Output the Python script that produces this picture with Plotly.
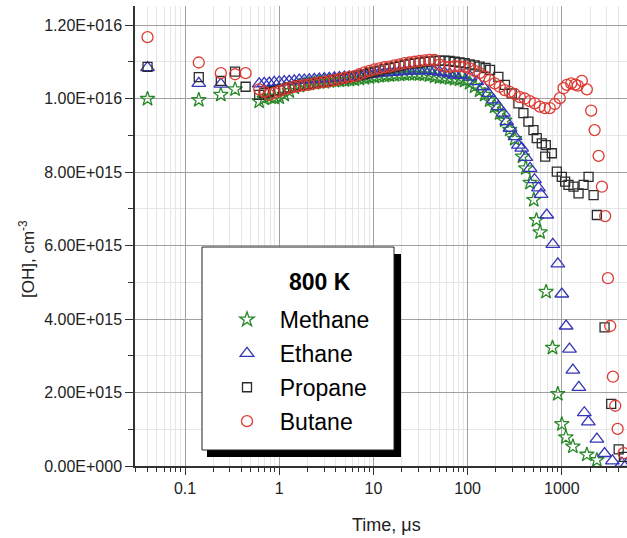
import plotly.graph_objects as go

UNIT = 1e15  # OH values below are given in units of 1e15 cm^-3

# ---------------- data (time in microseconds, [OH] in 1e15 cm^-3) ----------------
methane_t = [0.04, 0.14, 0.24, 0.34,
             0.613, 0.693, 0.783, 0.885, 1.0, 1.13, 1.277, 1.444, 1.632, 1.845,
             2.085, 2.357, 2.664, 3.011, 3.403, 3.847, 4.348, 4.914, 5.555, 6.279,
             7.097, 8.022, 9.067, 10.25, 11.58, 13.09, 14.8, 16.73, 18.91, 21.37,
             24.15, 27.3, 30.86, 34.88, 39.42, 44.56, 50.37, 56.93, 64.35, 72.73,
             82.21, 92.92, 105.0, 118.7, 134.2, 151.7, 171.4, 193.8, 219.0, 247.6,
             279.8, 316.3,
             382, 414, 460, 504, 538, 588, 681, 796, 907, 1000, 1104, 1310, 1845, 2355]
methane_oh = [9.99, 9.96, 10.10, 10.25,
              9.92, 10.00, 10.05, 10.02, 10.03, 10.10, 10.20, 10.30, 10.35, 10.38,
              10.40, 10.42, 10.44, 10.45, 10.47, 10.48, 10.49, 10.50, 10.51, 10.52,
              10.54, 10.56, 10.58, 10.59, 10.61, 10.62, 10.63, 10.64, 10.65, 10.66,
              10.67, 10.67, 10.66, 10.65, 10.63, 10.60, 10.58, 10.57, 10.55, 10.53,
              10.52, 10.48, 10.42, 10.33, 10.22, 10.10, 9.95, 9.78, 9.60, 9.40,
              9.15, 8.90,
              8.42, 8.10, 7.71, 7.24, 6.69, 6.36, 4.74, 3.22, 1.96, 1.14, 0.78, 0.53, 0.31, 0.16]

ethane_t = [0.04, 0.14, 0.24,
            0.613, 0.693, 0.783, 0.885, 1.0, 1.13, 1.277, 1.444, 1.632, 1.845,
            2.085, 2.357, 2.664, 3.011, 3.403, 3.847, 4.348, 4.914, 5.555, 6.279,
            7.097, 8.022, 9.067, 10.25, 11.58, 13.09, 14.8, 16.73, 18.91, 21.37,
            24.15, 27.3, 30.86, 34.88, 39.42, 44.56, 50.37, 56.93, 64.35,
            73.3, 86.3, 106, 125, 147, 166, 188, 212, 240, 260, 282, 319, 346, 375,
            414, 460, 513, 565, 602, 692, 802, 907, 1000, 1111, 1207, 1310, 1517,
            1734, 1913, 2356, 2844, 3443, 4348, 4900]
ethane_oh = [10.84, 10.41, 10.39,
             10.40, 10.41, 10.42, 10.44, 10.45, 10.46, 10.47, 10.48, 10.50, 10.50,
             10.51, 10.52, 10.53, 10.54, 10.55, 10.56, 10.57, 10.58, 10.59, 10.60,
             10.62, 10.64, 10.66, 10.67, 10.69, 10.70, 10.71, 10.72, 10.73, 10.74,
             10.75, 10.75, 10.76, 10.76, 10.75, 10.74, 10.72, 10.70, 10.67,
             10.64, 10.64, 10.59, 10.46, 10.32, 10.14, 9.96, 9.78, 9.60, 9.37, 9.19, 8.96, 8.73, 8.65,
             8.40, 8.10, 7.79, 7.57, 7.39, 6.83, 6.03, 5.50, 4.68, 3.81, 3.18, 2.61, 2.14,
             1.45, 1.20, 0.73, 0.34, 0.14, 0.07, 0.05]

propane_t = [0.04, 0.14, 0.24, 0.34, 0.44,
             0.613, 0.693, 0.783, 0.885, 1.0, 1.13, 1.277, 1.444, 1.632, 1.845,
             2.085, 2.357, 2.664, 3.011, 3.403, 3.847, 4.348, 4.914, 5.555, 6.279,
             7.097, 8.022, 9.067, 10.25, 11.58, 13.09, 14.8, 16.73, 18.91, 21.37,
             24.15, 27.3, 30.86, 34.88, 39.42, 44.56, 50.37, 56.93, 64.35, 72.73,
             82.21, 92.92, 105.0, 118.7, 134.2,
             155, 173, 212, 249, 294, 346, 391, 442, 500, 542, 613, 666, 676, 783,
             885, 1000, 1084, 1177, 1331, 1505, 1702, 1923, 2174, 2356, 2844, 3343,
             4012, 4570]
propane_oh = [10.86, 10.58, 10.48, 10.73, 10.32,
              10.10, 10.15, 10.18, 10.20, 10.22, 10.26, 10.30, 10.33, 10.36, 10.38,
              10.40, 10.42, 10.44, 10.46, 10.48, 10.50, 10.52, 10.55, 10.58, 10.60,
              10.63, 10.66, 10.70, 10.73, 10.76, 10.80, 10.83, 10.86, 10.89, 10.92,
              10.94, 10.96, 10.98, 11.00, 11.01, 11.02, 11.03, 11.03, 11.02, 11.00,
              10.98, 10.96, 10.93, 10.90, 10.87,
              10.83, 10.78, 10.59, 10.37, 10.14, 9.87, 9.60, 9.37, 9.14, 8.92, 8.78, 8.42, 8.73, 8.51,
              8.01, 7.87, 7.74, 7.65, 7.60, 7.42, 7.65, 7.87, 7.37, 6.83, 3.77, 1.69,
              0.45, 0.25]

butane_t = [0.04, 0.14, 0.24, 0.34, 0.44,
            0.613, 0.693, 0.783, 0.885, 1.0, 1.13, 1.277, 1.444, 1.632, 1.845,
            2.085, 2.357, 2.664, 3.011, 3.403, 3.847, 4.348, 4.914, 5.555, 6.279,
            7.097, 8.022, 9.067, 10.25, 11.58, 13.09, 14.8, 16.73, 18.91, 21.37,
            24.15, 27.3, 30.86, 34.88, 39.42, 44.56, 50.37, 56.93, 64.35, 72.73,
            82.21, 92.92, 105.0, 118.7, 134.2, 151.7, 171.4, 193.8, 219.0, 247.6,
            279.8, 316.3, 357.5, 404.1, 456.7, 516.2, 583.5, 659.5, 745.4, 842.5,
            952.3,
            1042, 1130, 1257, 1385, 1479, 1633, 1845, 2050, 2228, 2457, 2665, 2889,
            3085, 3266, 3490, 3692, 3914, 4532, 4950]
butane_oh = [11.67, 10.98, 10.69, 10.66, 10.69,
             10.25, 10.18, 10.10, 10.15, 10.20, 10.25, 10.28, 10.32, 10.34, 10.36,
             10.38, 10.41, 10.43, 10.45, 10.47, 10.50, 10.53, 10.56, 10.59, 10.61,
             10.66, 10.71, 10.75, 10.79, 10.82, 10.85, 10.87, 10.90, 10.93, 10.96,
             10.98, 11.00, 11.02, 11.04, 11.05, 11.05, 10.92, 10.87, 10.86, 10.88,
             10.88, 10.86, 10.82, 10.75, 10.69, 10.60, 10.50, 10.41, 10.32, 10.23,
             10.18, 10.12, 10.04, 10.00, 9.93, 9.87, 9.78, 9.74, 9.74, 9.85,
             10.01,
             10.28, 10.37, 10.41, 10.38, 10.35, 10.48, 10.25, 9.67, 9.14, 8.44, 7.60, 6.80,
             5.11, 3.81, 2.43, 1.64, 1.01, 0.35, 0.25]

for a, b in [(methane_t, methane_oh), (ethane_t, ethane_oh),
             (propane_t, propane_oh), (butane_t, butane_oh)]:
    assert len(a) == len(b), (len(a), len(b))

y_tick_vals = [0, 2e15, 4e15, 6e15, 8e15, 1.0e16, 1.2e16]
y_tick_text = ["0.00E+000", "2.00E+015", "4.00E+015", "6.00E+015",
               "8.00E+015", "1.00E+016", "1.20E+016"]
x_tick_vals = [0.1, 1, 10, 100, 1000]
x_tick_text = ["0.1", "1", "10", "100", "1000"]

# ---------------- layout geometry (pixels) ----------------
W, H = 627, 538
ML, MR, MT, MB = 135, 0, 6, 72
PW, PH = W - ML - MR, H - MT - MB


def px(x):
    return (x - ML) / PW


def py(y):
    return (H - MB - y) / PH


FONT = "Liberation Sans, Arial, sans-serif"

fig = go.Figure()

series = [
    ("Methane", methane_t, methane_oh, "star-open", "#2a8a2a", 11),
    ("Ethane", ethane_t, ethane_oh, "triangle-up-open", "#3535b8", 12),
    ("Propane", propane_t, propane_oh, "square-open", "#2b2b2b", 9),
    ("Butane", butane_t, butane_oh, "circle-open", "#dd3b33", 11),
]
for name, t, oh, sym, col, size in series:
    fig.add_trace(go.Scatter(
        x=t, y=[v * UNIT for v in oh], mode="markers",
        name="\u00a0\u00a0" + name, legendgroup=name,
        marker=dict(symbol=sym, size=size, color=col, line=dict(width=1.3, color=col)),
        cliponaxis=False,
    ))

minor_x = [d * 10 ** e for e in range(-2, 4) for d in range(2, 10)]
minor_y = [1e15, 3e15, 5e15, 7e15, 9e15, 1.1e16]

fig.update_xaxes(
    type="log", range=[-1.531, 3.692],
    tickmode="array", tickvals=x_tick_vals, ticktext=x_tick_text,
    ticks="outside", ticklen=7, tickwidth=1.2, tickcolor="#333",
    showline=True, linecolor="#333", linewidth=1.5,
    showgrid=True, gridcolor="#a0a0a0", gridwidth=1, zeroline=False,
    tickfont=dict(family=FONT, size=16, color="#222"),
    minor=dict(tickmode="array", tickvals=minor_x, ticks="outside", ticklen=4,
               tickwidth=1, tickcolor="#333", showgrid=True, gridcolor="#e6e6e6",
               gridwidth=1),
)
fig.update_yaxes(
    range=[0, 1.2517e16],
    tickmode="array", tickvals=y_tick_vals, ticktext=y_tick_text,
    ticks="outside", ticklen=8, tickwidth=1.2, tickcolor="#333",
    showline=True, linecolor="#333", linewidth=1.5,
    showgrid=True, gridcolor="#a0a0a0", gridwidth=1, zeroline=False,
    tickfont=dict(family=FONT, size=16, color="#222"),
    minor=dict(tickmode="array", tickvals=minor_y, ticks="outside", ticklen=5,
               tickwidth=1, tickcolor="#333", showgrid=True, gridcolor="#e6e6e6",
               gridwidth=1),
)

# legend box with drop shadow
shapes = [
    dict(type="rect", xref="paper", yref="paper", layer="above",
         x0=px(207), x1=px(401), y0=py(457), y1=py(254),
         fillcolor="black", line=dict(width=0)),
    dict(type="rect", xref="paper", yref="paper", layer="above",
         x0=px(202), x1=px(394), y0=py(450), y1=py(247),
         fillcolor="white", line=dict(width=1, color="#222")),
]

annotations = [
    dict(text="<b>800 K</b>", xref="paper", yref="paper", x=px(320), y=py(282),
         xanchor="center", yanchor="middle", showarrow=False,
         font=dict(family=FONT, size=23, color="black")),
    dict(text="Time, \u03bcs", xref="paper", yref="paper", x=px(386), y=py(525),
         xanchor="center", yanchor="middle", showarrow=False,
         font=dict(family=FONT, size=18, color="#222")),
    dict(text="[OH], cm<sup>-3</sup>", xref="paper", yref="paper", x=px(27), y=py(259),
         xanchor="center", yanchor="middle", showarrow=False, textangle=-90,
         font=dict(family=FONT, size=17, color="#222")),
]

fig.update_layout(
    width=W, height=H,
    margin=dict(l=ML, r=MR, t=MT, b=MB, pad=0),
    paper_bgcolor="white", plot_bgcolor="white",
    font=dict(family=FONT, color="black"),
    shapes=shapes, annotations=annotations,
    showlegend=True,
    legend=dict(x=px(227), y=py(298), xanchor="left", yanchor="top",
                bgcolor="rgba(0,0,0,0)", borderwidth=0,
                traceorder="grouped", tracegroupgap=1,
                font=dict(family=FONT, size=23, color="black")),
)

fig.write_html("out.html")
